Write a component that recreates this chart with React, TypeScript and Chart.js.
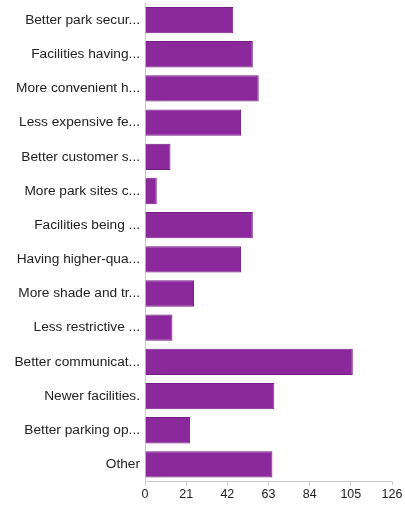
import React, { useEffect, useRef } from "react";
import { Chart, registerables } from "chart.js";

Chart.register(...registerables);

const categories = [
  "Better park secur...",
  "Facilities having...",
  "More convenient h...",
  "Less expensive fe...",
  "Better customer s...",
  "More park sites c...",
  "Facilities being ...",
  "Having higher-qua...",
  "More shade and tr...",
  "Less restrictive ...",
  "Better communicat...",
  "Newer facilities.",
  "Better parking op...",
  "Other",
];

const responses = [45, 55, 58, 49, 13, 6, 55, 49, 25, 14, 106, 66, 23, 65];

const xTicks = [0, 21, 42, 63, 84, 105, 126];

export default function App() {
  const ref = useRef<HTMLCanvasElement | null>(null);

  useEffect(() => {
    if (!ref.current) return;
    const chart = new Chart(ref.current, {
      type: "bar",
      data: {
        labels: categories,
        datasets: [
          {
            data: responses,
            backgroundColor: "#8b289b",
            borderColor: "#761d85",
            borderWidth: 1,
            barPercentage: 0.77,
            categoryPercentage: 1,
          },
        ],
      },
      options: {
        indexAxis: "y",
        animation: false,
        responsive: false,
        maintainAspectRatio: false,
        layout: { padding: { top: 3, right: 13, bottom: 0, left: 0 } },
        plugins: { legend: { display: false }, tooltip: { enabled: false } },
        scales: {
          x: {
            min: 0,
            max: 126,
            afterBuildTicks: (scale: any) => {
              scale.ticks = xTicks.map((v) => ({ value: v }));
            },
            afterFit: (scale: any) => {
              scale.height = 23.5;
            },
            grid: {
              drawOnChartArea: false,
              drawTicks: true,
              tickLength: 4,
              color: "#cccccc",
            },
            border: { display: true, color: "#cccccc" },
            ticks: {
              color: "#222222",
              padding: 2,
              maxRotation: 0,
              font: { family: "'Liberation Sans', Arial, sans-serif", size: 12.5 },
            },
          },
          y: {
            afterFit: (scale: any) => {
              scale.width = 145;
              scale.paddingTop = 0;
              scale.paddingBottom = 0;
            },
            grid: { display: false, tickLength: 0 },
            border: { display: true, color: "#cccccc" },
            ticks: {
              color: "#222222",
              padding: 5,
              autoSkip: false,
              font: { family: "'Liberation Sans', Arial, sans-serif", size: 13.7 },
            },
          },
        },
      },
    });
    return () => chart.destroy();
  }, []);

  return (
    <div style={{ position: "fixed", left: 0, top: 0, width: 405, height: 505, background: "#fff" }}>
      <canvas ref={ref} width={405} height={505} style={{ display: "block" }} />
    </div>
  );
}
